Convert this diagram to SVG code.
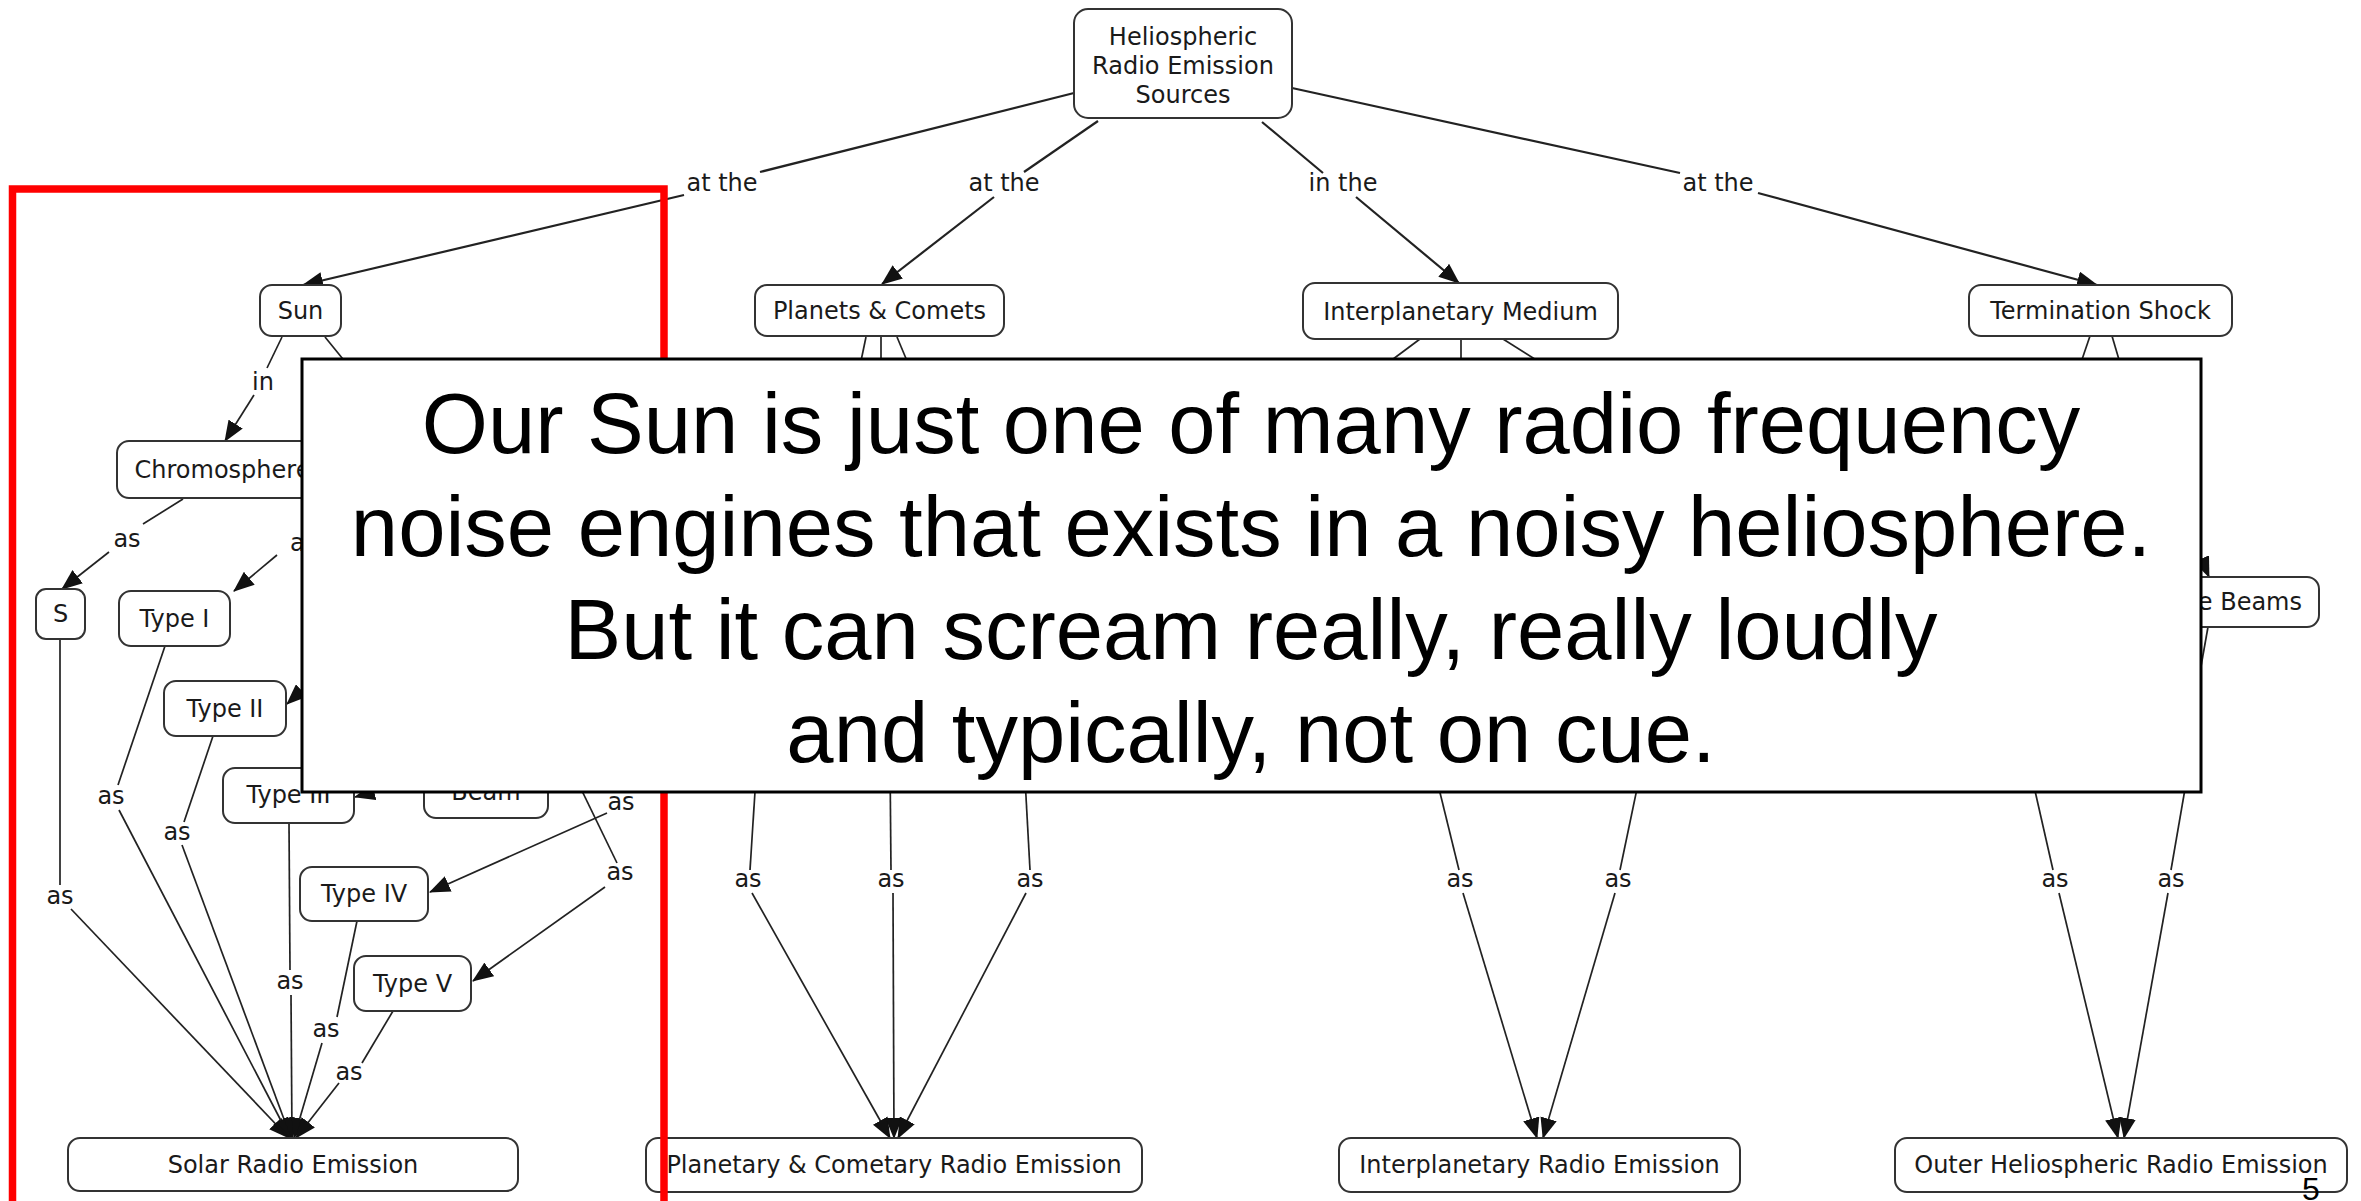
<svg xmlns="http://www.w3.org/2000/svg" width="2361" height="1201" viewBox="0 0 2361 1201">
<defs>
<marker id="ah" viewBox="0 0 20 16" refX="19" refY="8" markerWidth="21" markerHeight="17" markerUnits="userSpaceOnUse" orient="auto"><path d="M0,0 L20,8 L0,16 z" fill="#111"/></marker>
<style>
.node rect{fill:#fff;stroke:#333;stroke-width:2}
.node text,.lbl{font-family:"DejaVu Sans",Verdana,sans-serif;font-size:24px;fill:#1a1a1a;text-anchor:middle}
#connectors line{stroke:#222;stroke-width:1.7;fill:none}
#connectors line.t{stroke-width:2.2}
#connectors line.a{marker-end:url(#ah)}
.big{font-family:"Liberation Sans",Arial,sans-serif;font-size:85px;fill:#000;text-anchor:middle}
</style>
</defs>
<rect width="2361" height="1201" fill="#fff"/>

<g id="connectors">
<line class="t" x1="1074" y1="93" x2="760" y2="172"/>
<line class="t a" x1="684" y1="195" x2="303" y2="285"/>
<text class="lbl" x="722" y="191">at the</text>
<line class="t" x1="1098" y1="121" x2="1024" y2="172"/>
<line class="t a" x1="994" y1="197" x2="882" y2="284"/>
<text class="lbl" x="1004" y="191">at the</text>
<line class="t" x1="1262" y1="122" x2="1323" y2="173"/>
<line class="t a" x1="1356" y1="197" x2="1459" y2="283"/>
<text class="lbl" x="1343" y="191">in the</text>
<line class="t" x1="1292" y1="88" x2="1680" y2="173"/>
<line class="t a" x1="1758" y1="193" x2="2097" y2="285"/>
<text class="lbl" x="1718" y="191">at the</text>

<line x1="282" y1="337" x2="267" y2="368"/>
<text class="lbl" x="263" y="390">in</text>
<line class="a" x1="254" y1="395" x2="225" y2="441"/>
<line x1="325" y1="337" x2="360" y2="380"/>

<line x1="183" y1="499" x2="143" y2="524"/>
<text class="lbl" x="127" y="547">as</text>
<line class="a" x1="109" y1="552" x2="62" y2="589"/>
<text class="lbl" x="290" y="551" style="text-anchor:start">as</text>
<line class="a" x1="277" y1="555" x2="234" y2="591"/>
<line class="a" x1="340" y1="655" x2="287" y2="704"/>
<line class="a" x1="420" y1="780" x2="355" y2="797"/>

<line x1="567" y1="760" x2="617" y2="863"/>
<text class="lbl" x="621" y="810">as</text>
<line class="a" x1="607" y1="813" x2="430" y2="892"/>
<text class="lbl" x="620" y="880">as</text>
<line class="a" x1="605" y1="887" x2="473" y2="981"/>

<line x1="60" y1="639" x2="60" y2="885"/>
<text class="lbl" x="60" y="904">as</text>
<line class="a" x1="71" y1="909" x2="289" y2="1138"/>
<line x1="165" y1="646" x2="118" y2="785"/>
<text class="lbl" x="111" y="804">as</text>
<line class="a" x1="119" y1="810" x2="290" y2="1138"/>
<line x1="213" y1="736" x2="184" y2="822"/>
<text class="lbl" x="177" y="840">as</text>
<line class="a" x1="182" y1="845" x2="291" y2="1138"/>
<line x1="289" y1="823" x2="290" y2="970"/>
<text class="lbl" x="290" y="989">as</text>
<line class="a" x1="291" y1="995" x2="292" y2="1138"/>
<line x1="357" y1="921" x2="337" y2="1017"/>
<text class="lbl" x="326" y="1037">as</text>
<line class="a" x1="322" y1="1043" x2="294" y2="1138"/>
<line x1="393" y1="1011" x2="362" y2="1063"/>
<text class="lbl" x="349" y="1080">as</text>
<line class="a" x1="339" y1="1083" x2="296" y2="1138"/>

<line x1="866" y1="337" x2="857" y2="380"/>
<line x1="881" y1="337" x2="881" y2="380"/>
<line x1="897" y1="337" x2="915" y2="380"/>
<line x1="757" y1="760" x2="750" y2="870"/>
<text class="lbl" x="748" y="887">as</text>
<line class="a" x1="752" y1="893" x2="890" y2="1138"/>
<line x1="890" y1="760" x2="891" y2="870"/>
<text class="lbl" x="891" y="887">as</text>
<line class="a" x1="893" y1="893" x2="894" y2="1138"/>
<line x1="1024" y1="760" x2="1030" y2="870"/>
<text class="lbl" x="1030" y="887">as</text>
<line class="a" x1="1026" y1="893" x2="898" y2="1138"/>

<line x1="1420" y1="339" x2="1365" y2="380"/>
<line x1="1461" y1="339" x2="1461" y2="380"/>
<line x1="1503" y1="339" x2="1568" y2="380"/>
<line x1="1432" y1="760" x2="1459" y2="870"/>
<text class="lbl" x="1460" y="887">as</text>
<line class="a" x1="1463" y1="893" x2="1537" y2="1138"/>
<line x1="1643" y1="760" x2="1620" y2="870"/>
<text class="lbl" x="1618" y="887">as</text>
<line class="a" x1="1615" y1="893" x2="1543" y2="1138"/>

<line x1="2090" y1="336" x2="2075" y2="380"/>
<line x1="2112" y1="336" x2="2125" y2="380"/>
<line class="a" x1="2185" y1="520" x2="2209" y2="577"/>
<line x1="2208" y1="627" x2="2195" y2="700"/>
<line x1="2028" y1="760" x2="2053" y2="870"/>
<text class="lbl" x="2055" y="887">as</text>
<line class="a" x1="2059" y1="893" x2="2118" y2="1138"/>
<line x1="2190" y1="760" x2="2171" y2="870"/>
<text class="lbl" x="2171" y="887">as</text>
<line class="a" x1="2168" y1="893" x2="2124" y2="1138"/>
</g>

<g id="nodes">
<g id="n-helio" class="node"><rect x="1074" y="9" width="218" height="109" rx="14"/><text x="1183" y="45">Heliospheric</text><text x="1183" y="74">Radio Emission</text><text x="1183" y="103">Sources</text></g>
<g id="n-sun" class="node"><rect x="260" y="285" width="81" height="51" rx="12"/><text x="300.5" y="319">Sun</text></g>
<g id="n-planets" class="node"><rect x="755" y="285" width="249" height="51" rx="12"/><text x="879.5" y="319">Planets &amp; Comets</text></g>
<g id="n-ipm" class="node"><rect x="1303" y="283" width="315" height="56" rx="12"/><text x="1460.5" y="320">Interplanetary Medium</text></g>
<g id="n-ts" class="node"><rect x="1969" y="285" width="263" height="51" rx="12"/><text x="2100.5" y="319">Termination Shock</text></g>
<g id="n-chromo" class="node"><rect x="117" y="441" width="211" height="57" rx="12"/><text x="222.5" y="478">Chromosphere</text></g>
<g id="n-s" class="node"><rect x="36" y="589" width="49" height="50" rx="10"/><text x="60.5" y="622">S</text></g>
<g id="n-t1" class="node"><rect x="119" y="591" width="111" height="55" rx="12"/><text x="174.5" y="627">Type I</text></g>
<g id="n-t2" class="node"><rect x="164" y="681" width="122" height="55" rx="12"/><text x="225" y="717">Type II</text></g>
<g id="n-t3" class="node"><rect x="223" y="768" width="131" height="55" rx="12"/><text x="288.5" y="803">Type III</text></g>
<g id="n-beam" class="node"><rect x="424" y="765" width="124" height="53" rx="12"/><text x="486" y="800">Beam</text></g>
<g id="n-t4" class="node"><rect x="300" y="867" width="128" height="54" rx="12"/><text x="364" y="902">Type IV</text></g>
<g id="n-t5" class="node"><rect x="354" y="956" width="117" height="55" rx="12"/><text x="412.5" y="992">Type V</text></g>
<g id="n-beams" class="node"><rect x="2150" y="577" width="169" height="50" rx="12"/><text x="2302" y="610" style="text-anchor:end">e Beams</text></g>
<g id="n-solar" class="node"><rect x="68" y="1138" width="450" height="53" rx="12"/><text x="293" y="1173">Solar Radio Emission</text></g>
<g id="n-pcre" class="node"><rect x="646" y="1138" width="496" height="54" rx="12"/><text x="894" y="1173">Planetary &amp; Cometary Radio Emission</text></g>
<g id="n-ipre" class="node"><rect x="1339" y="1138" width="401" height="54" rx="12"/><text x="1539.5" y="1173">Interplanetary Radio Emission</text></g>
<g id="n-ohre" class="node"><rect x="1895" y="1138" width="452" height="54" rx="12"/><text x="2121" y="1173">Outer Heliospheric Radio Emission</text></g>
</g>

<g id="highlight"><rect x="12.5" y="189" width="651.5" height="1100" fill="none" stroke="#ff0000" stroke-width="7.5"/></g>

<g id="overlay">
<rect x="302" y="359" width="1899" height="433" fill="#fff" stroke="#000" stroke-width="3"/>
<text class="big" x="1251" y="453">Our Sun is just one of many radio frequency</text>
<text class="big" x="1251" y="556">noise engines that exists in a noisy heliosphere.</text>
<text class="big" x="1251" y="659">But it can scream really, really loudly</text>
<text class="big" x="1251" y="762">and typically, not on cue.</text>
</g>

<text x="2311" y="1200" style="font-family:'Liberation Sans',Arial,sans-serif;font-size:32px;fill:#000;text-anchor:middle">5</text>
</svg>
